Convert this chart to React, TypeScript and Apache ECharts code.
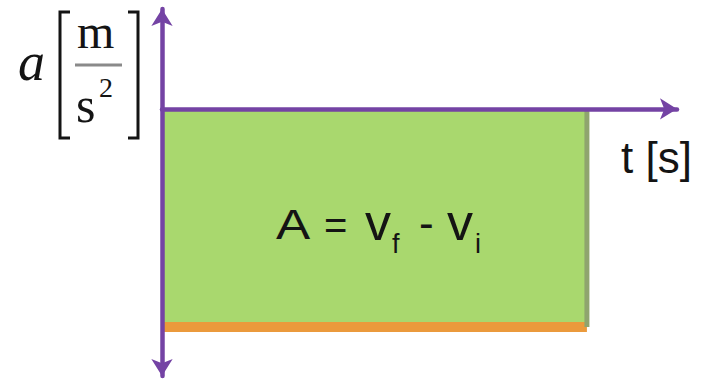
import React, { useEffect, useRef } from "react";
import * as echarts from "echarts";

// Data: constant (negative) acceleration between t_i and t_f
const timeValues = [0, 10];
const accelValues = [-2, -2];
const xAxisMax = 12.12;
const yAxisMin = -2.45;
const yAxisMax = 0.917;

const yLabelVar = "a";
const yLabelNum = "m";
const yLabelDen = "s";
const yLabelExp = "2";
const xLabel = "t [s]";
const areaParts = ["A", "=", "v", "f", "-", "v", "i"];

const PURPLE = "#7443a4";
const GREEN = "#a9d86e";
const ORANGE = "#eb9a3c";
const EDGE = "#8fa46e";

export default function App() {
  const ref = useRef<HTMLDivElement>(null);
  useEffect(() => {
    if (!ref.current) return;
    const chart = echarts.init(ref.current, undefined, { renderer: "svg" });
    const serif = "Liberation Serif";
    const sans = "Liberation Sans";
    const txt = (text: string, x: number, y: number, size: number, family: string, extra: any = {}) => ({
      type: "text",
      x,
      y,
      z: 100,
      ...(extra.props || {}),
      style: {
        text,
        fill: "#141414",
        fontSize: size,
        fontFamily: family,
        fontStyle: extra.italic ? "italic" : "normal",
        align: "left",
        verticalAlign: "middle",
      },
    });
    chart.setOption({
      animation: false,
      backgroundColor: "#ffffff",
      grid: { left: 162, right: 25, top: 9, bottom: 3, containLabel: false },
      xAxis: {
        type: "value",
        min: 0,
        max: xAxisMax,
        z: 10,
        axisLine: {
          onZero: true,
          lineStyle: { color: PURPLE, width: 4.5 },
          symbol: ["none", "arrow"],
          symbolSize: [16, 17],
        },
        axisTick: { show: false },
        axisLabel: { show: false },
        splitLine: { show: false },
      },
      yAxis: {
        type: "value",
        min: yAxisMin,
        max: yAxisMax,
        z: 10,
        axisLine: {
          show: true,
          onZero: false,
          lineStyle: { color: PURPLE, width: 4.5 },
          symbol: ["arrow", "arrow"],
          symbolSize: [16, 17],
        },
        axisTick: { show: false },
        axisLabel: { show: false },
        splitLine: { show: false },
      },
      series: [
        {
          type: "line",
          data: timeValues.map((t, i) => [t, accelValues[i]]),
          symbol: "none",
          lineStyle: { color: ORANGE, width: 10 },
          areaStyle: { color: GREEN, opacity: 1 },
          z: 2,
        },
        {
          type: "line",
          data: [
            [timeValues[1], 0],
            [timeValues[1], accelValues[1]],
          ],
          symbol: "none",
          lineStyle: { color: EDGE, width: 5 },
          z: 3,
        },
      ],
      graphic: [
        txt(yLabelVar, 18, 62, 54, serif, { italic: true }),
        txt(yLabelNum, 77, 31, 48, serif),
        { type: "line", z: 100, shape: { x1: 75, y1: 65, x2: 122, y2: 65 }, style: { stroke: "#8a8a8a", lineWidth: 3 } },
        txt(yLabelDen, 76, 105, 50, serif),
        txt(yLabelExp, 99, 87.5, 28, serif),
        {
          type: "polyline",
          z: 100,
          shape: { points: [[70, 12], [60, 12], [60, 138], [70, 138]] },
          style: { stroke: "#141414", lineWidth: 3, fill: "none" },
        },
        {
          type: "polyline",
          z: 100,
          shape: { points: [[128, 12], [138, 12], [138, 138], [128, 138]] },
          style: { stroke: "#141414", lineWidth: 3, fill: "none" },
        },
        txt(xLabel, 621, 157, 44, sans),
        txt(areaParts[0], 276, 225, 42, sans, { props: { scaleX: 1.22 } }),
        txt(areaParts[1], 324, 225, 40, sans),
        txt(areaParts[2], 365, 222, 52, sans),
        txt(areaParts[3], 392, 244, 27, sans),
        txt(areaParts[4], 419, 222, 44, sans),
        txt(areaParts[5], 447, 222, 52, sans),
        txt(areaParts[6], 475, 244, 27, sans),
      ],
    });
    return () => chart.dispose();
  }, []);
  return (
    <div
      ref={ref}
      style={{ position: "absolute", left: 0, top: 0, width: 702, height: 379 }}
    />
  );
}
